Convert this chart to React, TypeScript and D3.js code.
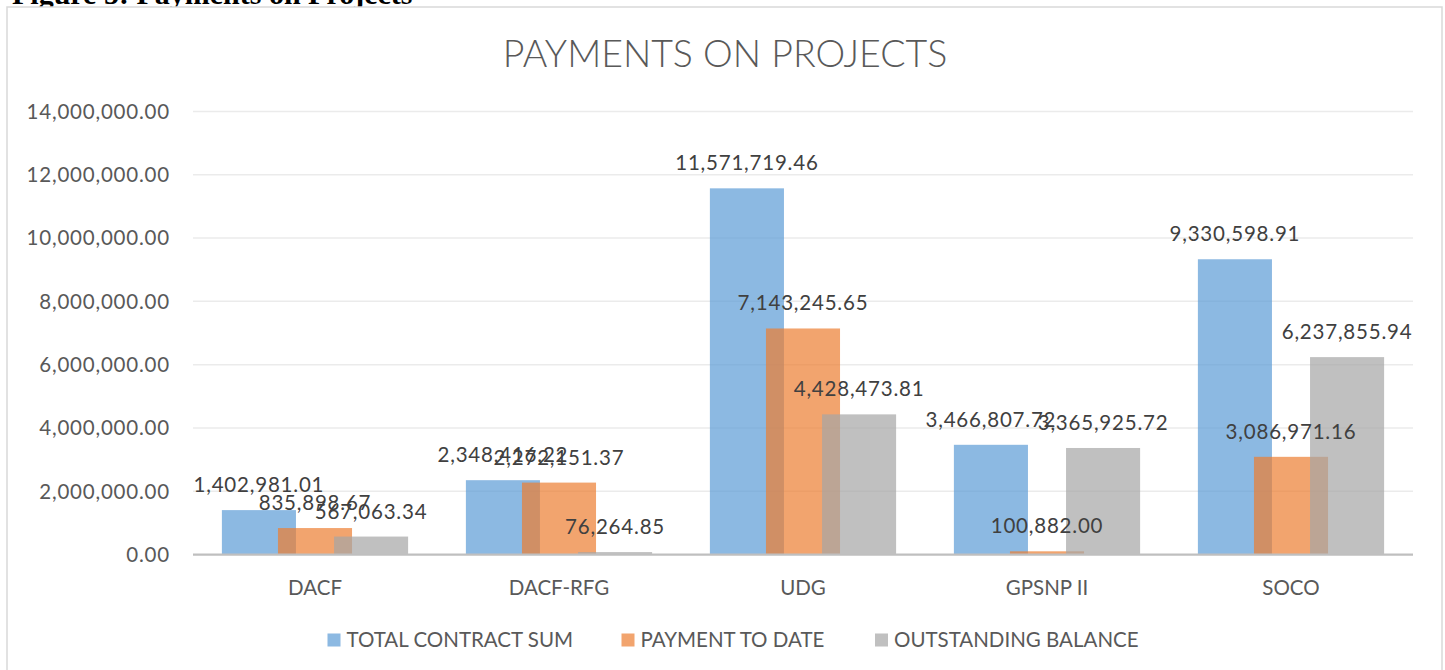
import React from "react";
import * as d3 from "d3";

const categories = ["DACF", "DACF-RFG", "UDG", "GPSNP II", "SOCO"];
const seriesNames = ["TOTAL CONTRACT SUM", "PAYMENT TO DATE", "OUTSTANDING BALANCE"];
const totalContractSum = [1402981.01, 2348416.22, 11571719.46, 3466807.72, 9330598.91];
const paymentToDate = [835898.67, 2272151.37, 7143245.65, 100882.0, 3086971.16];
const outstandingBalance = [567063.34, 76264.85, 4428473.81, 3365925.72, 6237855.94];
const yTicks = [0, 2000000, 4000000, 6000000, 8000000, 10000000, 12000000, 14000000];

const seriesValues = [totalContractSum, paymentToDate, outstandingBalance];
const colors = ["#5B9BD5", "#ED7D31", "#A5A5A5"];

const W = 1445;
const H = 670;
const FONT = "Lato, 'Open Sans', sans-serif";
const NUM_SPACING = 0.8; // Lato digits run a bit narrower than the original's

const App = () => {
  const x = d3.scaleBand<string>().domain(categories).range([193, 1413]).paddingInner(0).paddingOuter(0);
  const y = d3.scaleLinear().domain([0, 14000000]).range([554.5, 111.5]);
  const fmt = d3.format(",.2f");

  // Excel-like layout: gap width 78%, overlap 24%
  const gap = 0.78;
  const overlap = 0.243;
  const bw = x.bandwidth();
  const barW = bw / (3 - 2 * overlap + gap);
  const step = barW * (1 - overlap);
  const groupOffset = (bw - (barW + 2 * step)) / 2;

  const barX = (cat: string, s: number) => (x(cat) as number) + groupOffset + s * step;

  return (
    <div style={{ position: "absolute", left: 0, top: 0 }}>
      <svg width={W} height={H} style={{ display: "block" }}>
        <rect x={0} y={0} width={W} height={H} fill="#fff" />
        {/* caption from the page above the chart, mostly cut off */}
        <text x={12} y={3.5} fontFamily="'Liberation Serif', 'Times New Roman', serif" fontWeight="bold" fontSize={30} fill="#000">
          Figure 5: Payments on Projects
        </text>
        <rect x={7} y={7} width={1435} height={700} fill="#fff" stroke="#D9D9D9" strokeWidth={1.5} />

        <text x={725} y={66.5} textAnchor="middle" fontFamily={FONT} fontWeight={300} fontSize={37.5} fill="#595959">
          PAYMENTS ON PROJECTS
        </text>

        {/* gridlines and y labels */}
        {yTicks.map((t) => (
          <g key={t}>
            {t > 0 && <line x1={193} x2={1413} y1={y(t)} y2={y(t)} stroke="#EBEBEB" strokeWidth={1.5} />}
            <text
              x={170}
              y={y(t)}
              dy="0.36em"
              textAnchor="end"
              fontFamily={FONT}
              fontSize={20.5}
              letterSpacing={NUM_SPACING}
              fill="#595959"
            >
              {fmt(t)}
            </text>
          </g>
        ))}

        {/* bars */}
        {seriesValues.map((vals, s) => (
          <g key={s}>
            {categories.map((c, i) => (
              <rect
                key={c}
                x={barX(c, s)}
                y={y(vals[i])}
                width={barW}
                height={y(0) - y(vals[i])}
                fill={colors[s]}
                fillOpacity={0.7}
              />
            ))}
          </g>
        ))}

        <line x1={193} x2={1413} y1={y(0)} y2={y(0)} stroke="#BFBFBF" strokeWidth={2.25} />

        {/* data labels */}
        {seriesValues.map((vals, s) => (
          <g key={s}>
            {categories.map((c, i) => (
              <text
                key={c}
                x={barX(c, s) + barW / 2}
                y={y(vals[i]) - 18}
                textAnchor="middle"
                fontFamily={FONT}
                fontSize={20.5}
                letterSpacing={NUM_SPACING}
                fill="#404040"
              >
                {fmt(vals[i])}
              </text>
            ))}
          </g>
        ))}

        {/* category labels */}
        {categories.map((c) => (
          <text
            key={c}
            x={(x(c) as number) + bw / 2}
            y={594.5}
            textAnchor="middle"
            fontFamily={FONT}
            fontSize={20.5}
            fill="#595959"
          >
            {c}
          </text>
        ))}

        {/* legend */}
        {seriesNames.map((name, s) => {
          const lx = [327.5, 621.5, 875][s];
          return (
            <g key={name} transform={`translate(${lx},640)`}>
              <rect x={0} y={-6.5} width={13} height={13} fill={colors[s]} fillOpacity={0.7} />
              <text x={19} y={0} dy="0.36em" fontFamily={FONT} fontSize={20.5} fill="#595959">
                {name}
              </text>
            </g>
          );
        })}
      </svg>
    </div>
  );
};

export default App;
